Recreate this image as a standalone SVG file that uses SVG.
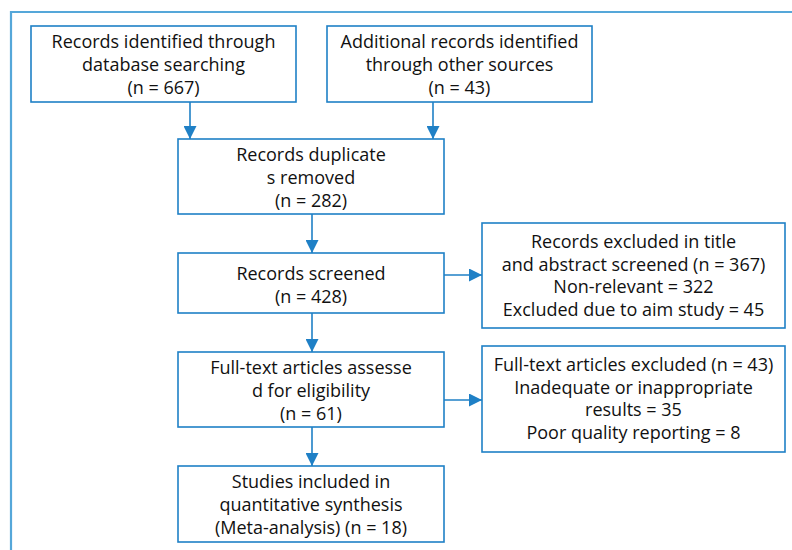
<svg xmlns="http://www.w3.org/2000/svg" width="792" height="550" viewBox="0 0 792 550">
<style>
.box{fill:#fff;stroke:#1f80c6;stroke-width:1.6}
.frame{fill:none;stroke:#55a7d9;stroke-width:2.2}
.t{font-family:"Open Sans","Noto Sans",sans-serif;font-size:18px;fill:#111;text-anchor:middle}
.c{stroke:#1f80c6;stroke-width:1.6;fill:none}
</style>
<defs>
<marker id="ah" viewBox="0 0 13 13" refX="13" refY="6.5" markerWidth="13" markerHeight="13" markerUnits="userSpaceOnUse" orient="auto">
<path d="M0,0 L13,6.5 L0,13 Z" fill="#1f80c6"/>
</marker>
</defs>
<rect x="0" y="0" width="792" height="550" fill="#fff"/>
<path class="frame" d="M11,551 L11,12 L793,12"/>
<g id="connectors">
<line class="c" x1="190" y1="102" x2="190" y2="139" marker-end="url(#ah)"/>
<line class="c" x1="433" y1="102" x2="433" y2="139" marker-end="url(#ah)"/>
<line class="c" x1="312" y1="214" x2="312" y2="253" marker-end="url(#ah)"/>
<line class="c" x1="444" y1="275" x2="482" y2="275" marker-end="url(#ah)"/>
<line class="c" x1="312" y1="313" x2="312" y2="352" marker-end="url(#ah)"/>
<line class="c" x1="444" y1="400" x2="482" y2="400" marker-end="url(#ah)"/>
<line class="c" x1="312" y1="427" x2="312" y2="466" marker-end="url(#ah)"/>
</g>
<g id="n1">
<rect class="box" x="31" y="26" width="265" height="76"/>
<text class="t" x="163.5" y="48">Records identified through</text>
<text class="t" x="163.5" y="71">database searching</text>
<text class="t" x="163.5" y="94">(n = 667)</text>
</g>
<g id="n2">
<rect class="box" x="327" y="26" width="265" height="76"/>
<text class="t" x="459.5" y="48">Additional records identified</text>
<text class="t" x="459.5" y="71">through other sources</text>
<text class="t" x="459.5" y="94">(n = 43)</text>
</g>
<g id="n3">
<rect class="box" x="178" y="139" width="266" height="75"/>
<text class="t" x="311" y="161">Records duplicate</text>
<text class="t" x="311" y="184">s removed</text>
<text class="t" x="311" y="207">(n = 282)</text>
</g>
<g id="n4">
<rect class="box" x="178" y="253" width="266" height="60"/>
<text class="t" x="311" y="280">Records screened</text>
<text class="t" x="311" y="303">(n = 428)</text>
</g>
<g id="n5">
<rect class="box" x="482" y="223" width="303" height="105"/>
<text class="t" x="633.5" y="248">Records excluded in title</text>
<text class="t" x="633.5" y="270.5">and abstract screened (n = 367)</text>
<text class="t" x="633.5" y="293">Non-relevant = 322</text>
<text class="t" x="633.5" y="315.5">Excluded due to aim study = 45</text>
</g>
<g id="n6">
<rect class="box" x="178" y="352" width="266" height="75"/>
<text class="t" x="311" y="374">Full-text articles assesse</text>
<text class="t" x="311" y="397">d for eligibility</text>
<text class="t" x="311" y="420">(n = 61)</text>
</g>
<g id="n7">
<rect class="box" x="482" y="346" width="303" height="106"/>
<text class="t" x="633.5" y="371">Full-text articles excluded (n = 43)</text>
<text class="t" x="633.5" y="393.5">Inadequate or inappropriate</text>
<text class="t" x="633.5" y="416">results = 35</text>
<text class="t" x="633.5" y="438.5">Poor quality reporting = 8</text>
</g>
<g id="n8">
<rect class="box" x="178" y="466" width="266" height="76"/>
<text class="t" x="311" y="488">Studies included in</text>
<text class="t" x="311" y="511">quantitative synthesis</text>
<text class="t" x="311" y="534">(Meta-analysis) (n = 18)</text>
</g>
</svg>
